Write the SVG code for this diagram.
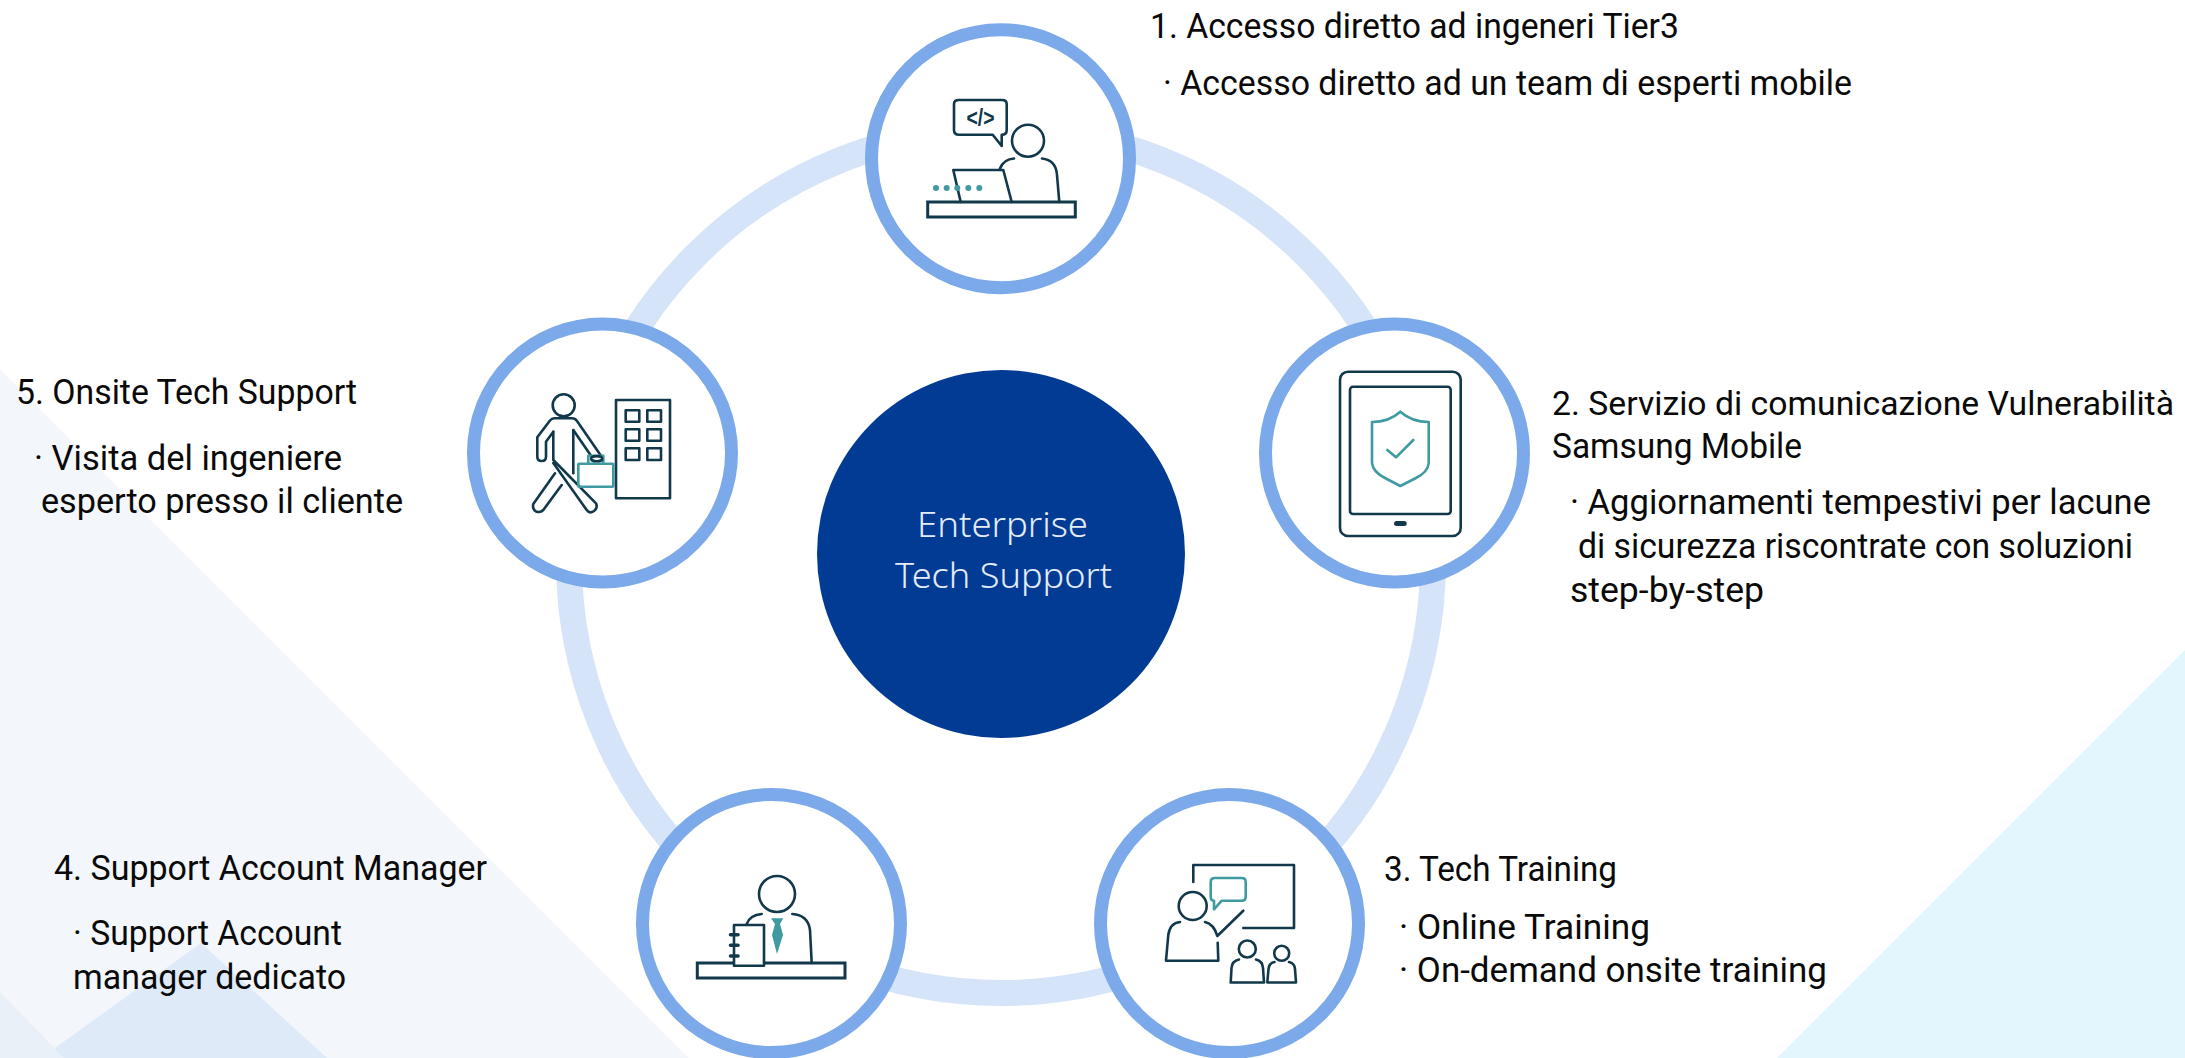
<svg xmlns="http://www.w3.org/2000/svg" width="2185" height="1058" viewBox="0 0 2185 1058">
<style>
text{font-family:Roboto,"Noto Sans","Liberation Sans",sans-serif;font-size:35px;fill:#0a0a0a}
text.c{font-family:"Noto Sans","Open Sans",sans-serif;font-size:35px;font-weight:300;fill:#e4ecf7;text-anchor:middle}
text.s{font-size:33.5px}
.ring{fill:#fff;stroke:#7ba9ea;stroke-width:13}
.i{fill:none;stroke:#12384c;stroke-width:2.6;stroke-linejoin:round;stroke-linecap:round}
.t{fill:none;stroke:#3f9aa2;stroke-width:2.6;stroke-linejoin:round;stroke-linecap:round}
.d{fill:#3f9aa2}
.f{fill:#12384c}
</style>
<rect width="2185" height="1058" fill="#fff"/>
<g id="background">
<polygon points="0,369 689,1058 0,1058" fill="#f3f7fb"/>
<polygon points="201,943 327,1058 41,1058" fill="#deeaf8"/>
<polygon points="0,992 64,1058 0,1058" fill="#e9f0f7"/>
<polygon points="2185,650 2185,1058 1777,1058" fill="#e3f5fd"/>
</g>
<g id="connectors">
<circle cx="1001" cy="561" r="432" fill="none" stroke="#d5e4f8" stroke-width="26"/>
</g>
<g id="center">
<circle cx="1001" cy="554" r="184" fill="#013b94"/>
<text class="c" x="1002.5" y="537" textLength="171" lengthAdjust="spacingAndGlyphs">Enterprise</text>
<text class="c" x="1003.5" y="588" textLength="217" lengthAdjust="spacingAndGlyphs">Tech Support</text>
</g>
<g id="node1">
<circle class="ring" cx="1000.5" cy="158.7" r="129"/>
<rect class="i" x="927.7" y="202" width="147.6" height="15" style="stroke-width:3;stroke-linecap:butt;stroke-linejoin:miter"/>
<path class="i" d="M959 100H1002Q1006.7 100 1006.7 104V130Q1006.7 134.7 1002 134.7H1001.7V146L992.7 134.7H959Q954 134.7 954 130V104Q954 100 959 100Z"/>
<text x="966.5" y="125.5" textLength="28" lengthAdjust="spacingAndGlyphs" style="font-family:'Liberation Sans',sans-serif;font-size:23px;font-weight:700;fill:#12384c">&lt;/&gt;</text>
<circle class="i" cx="1028" cy="140.7" r="16"/>
<path class="i" d="M1014 158.5Q1004 159 1000 168.5M1042 158.5Q1056 160 1057 175L1059.3 202"/>
<path class="i" d="M960.7 202L953.3 170H1003.3L1011.7 202"/>
<g class="d"><circle cx="936" cy="188" r="3"/><circle cx="946.7" cy="188" r="3"/><circle cx="957.3" cy="188" r="3"/><circle cx="968.3" cy="188" r="3"/><circle cx="979.3" cy="188" r="3"/></g>
<text x="1150" y="38" textLength="529" lengthAdjust="spacingAndGlyphs">1. Accesso diretto ad ingeneri Tier3</text>
<text x="1163" y="95" textLength="689" lengthAdjust="spacingAndGlyphs">· Accesso diretto ad un team di esperti mobile</text>
</g>
<g id="node2">
<circle class="ring" cx="1394.5" cy="453" r="129"/>
<rect class="i" x="1340" y="371.7" width="120.7" height="164.3" rx="8"/>
<rect class="i" x="1350" y="386.7" width="100.7" height="127.3" rx="3"/>
<rect class="f" x="1394" y="521" width="12.7" height="5" rx="2.5"/>
<path class="t" d="M1400.3 411.7Q1389 422 1372 422V463Q1373 472 1385 478L1400.3 486L1416 478Q1428 472 1428.7 463V422Q1412 422 1400.3 411.7Z"/>
<path class="t" d="M1387.3 450L1396 457.3L1413.3 440"/>
<text class="s" x="1552" y="415" textLength="622" lengthAdjust="spacingAndGlyphs">2. Servizio di comunicazione Vulnerabilità</text>
<text x="1552" y="458" textLength="250" lengthAdjust="spacingAndGlyphs">Samsung Mobile</text>
<text x="1570" y="514" textLength="581" lengthAdjust="spacingAndGlyphs">· Aggiornamenti tempestivi per lacune</text>
<text x="1578" y="558" textLength="555" lengthAdjust="spacingAndGlyphs">di sicurezza riscontrate con soluzioni</text>
<text x="1570" y="602" textLength="194" lengthAdjust="spacingAndGlyphs">step-by-step</text>
</g>
<g id="node3">
<circle class="ring" cx="1229.5" cy="923.5" r="129"/>
<path class="i" d="M1193.3 882V865H1294V928H1243.3"/>
<path class="t" d="M1214.7 878H1241.7Q1245.7 878 1245.7 882V896.7Q1245.7 900.7 1241.7 900.7H1221.7L1214 909.3V900.7Q1210.7 900.7 1210.7 896.7V882Q1210.7 878 1214.7 878Z"/>
<circle class="i" cx="1192.7" cy="906" r="14"/>
<path class="i" d="M1180 922Q1170 923 1168.3 935L1166 960.7H1218.3L1217.7 942.7"/>
<path class="i" d="M1205 922Q1214 924 1217.3 936L1243.3 910.7"/>
<circle class="i" cx="1247.3" cy="949" r="8.5"/>
<path class="i" d="M1239 959.5Q1232 961 1231.5 968L1230.7 982.5H1264L1263 968Q1262.5 961 1256 959.5"/>
<circle class="i" cx="1281.7" cy="953.3" r="7.5"/>
<path class="i" d="M1274.5 962Q1269 963 1268.5 969L1267.3 982.5H1296L1295 969Q1294.5 963 1289 962"/>
<text x="1384" y="881" textLength="233" lengthAdjust="spacingAndGlyphs">3. Tech Training</text>
<text x="1399" y="939" textLength="251" lengthAdjust="spacingAndGlyphs">· Online Training</text>
<text x="1399" y="982" textLength="428" lengthAdjust="spacingAndGlyphs">· On-demand onsite training</text>
</g>
<g id="node4">
<circle class="ring" cx="771.5" cy="923.5" r="129"/>
<rect class="i" x="697.3" y="963" width="147.7" height="15" style="stroke-width:3;stroke-linecap:butt;stroke-linejoin:miter"/>
<circle class="i" cx="777" cy="894" r="18"/>
<path class="i" d="M761.7 914Q750 915 746.7 924M792.3 914Q808 915 810 930L811.7 963"/>
<rect class="i" x="734" y="925" width="30" height="40.7" style="fill:#fff"/>
<path class="i" d="M730.5 934.7H738M730.5 945.3H738M730.5 956H738" style="stroke-width:3.6"/>
<polygon class="d" points="771,918.3 783.3,918.3 780,924 783,935 777,954 772,935 775,924"/>
<text x="54" y="880" textLength="433" lengthAdjust="spacingAndGlyphs">4. Support Account Manager</text>
<text x="73" y="945" textLength="269" lengthAdjust="spacingAndGlyphs">· Support Account</text>
<text x="73" y="989" textLength="273" lengthAdjust="spacingAndGlyphs">manager dedicato</text>
</g>
<g id="node5">
<circle class="ring" cx="602.5" cy="453" r="129"/>
<circle class="i" cx="563.7" cy="405.3" r="11"/>
<path class="i" d="M553.3 431.7L546 441.7V456.7Q546 461 541.7 461Q537.3 461 537.3 456.7V437.3L550 420.5Q552 418.3 554 418.3H572Q575 418.3 577 421L601.7 456.7"/>
<path class="i" d="M573.3 430L591.7 456.7"/>
<path class="i" d="M573.3 430V473.3"/>
<path class="i" d="M553.3 431.7V460L596 503.3Q598 508 594 511Q589.5 514 586.7 510L553.3 463"/>
<path class="i" d="M555 473.3L533.3 504Q532 509 536 511.5Q540.5 513 543.3 510L561.7 485"/>
<rect class="i" x="616" y="400" width="54" height="98.3"/>
<path class="i" d="M625.7 410.3h13.6v11.4h-13.6zM647.3 410.3h13.7v11.4h-13.7zM625.7 429.3h13.6v11.4h-13.6zM647.3 429.3h13.7v11.4h-13.7zM625.7 448.3h13.6v11.7h-13.6zM647.3 448.3h13.7v11.7h-13.7z"/>
<path class="t" d="M588.3 463.7V455.7H603.3V463.7"/>
<rect class="t" x="578.3" y="463.7" width="35" height="23" rx="1"/>
<ellipse class="i" cx="596.7" cy="458.7" rx="5.5" ry="2.6"/>
<text x="16" y="404" textLength="341" lengthAdjust="spacingAndGlyphs">5. Onsite Tech Support</text>
<text x="34" y="470" textLength="308" lengthAdjust="spacingAndGlyphs">· Visita del ingeniere</text>
<text x="41" y="513" textLength="362" lengthAdjust="spacingAndGlyphs">esperto presso il cliente</text>
</g>
</svg>
